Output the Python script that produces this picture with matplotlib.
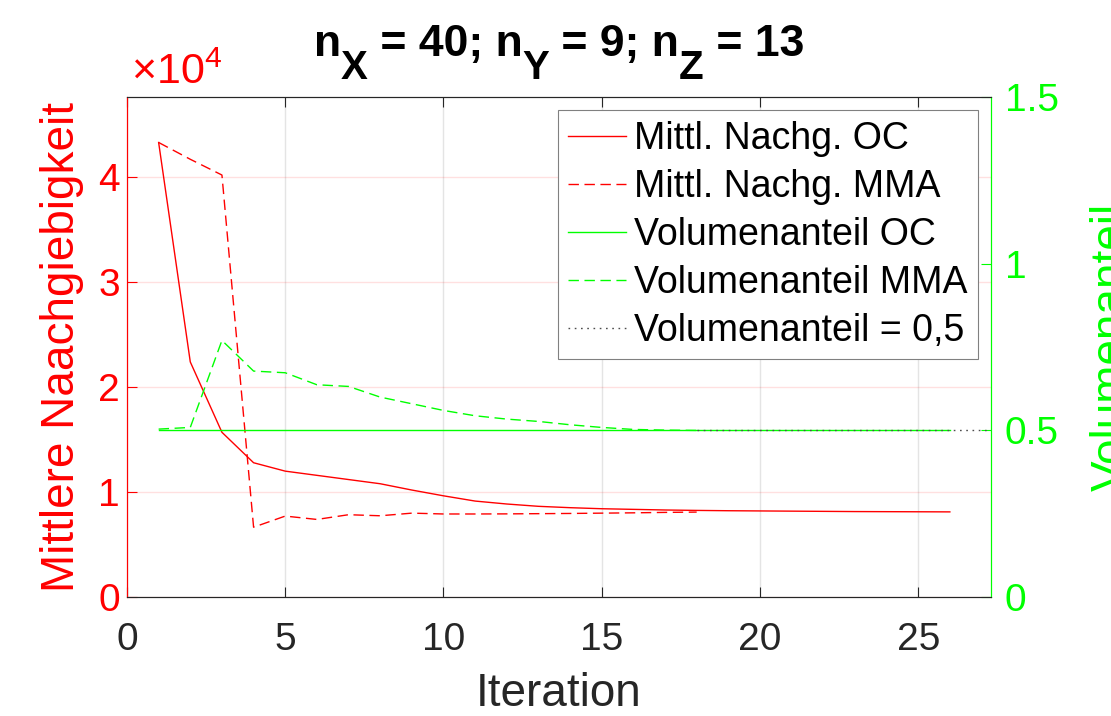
import matplotlib
matplotlib.use("Agg")
import matplotlib.pyplot as plt
from matplotlib.ticker import FuncFormatter

plt.rcParams['font.family'] = ['Liberation Sans', 'DejaVu Sans']
plt.rcParams['mathtext.fontset'] = 'custom'
plt.rcParams['mathtext.rm'] = 'Liberation Sans'
plt.rcParams['mathtext.bf'] = 'Liberation Sans:bold'

# mean compliance (OC / MMA)
it_oc = list(range(1, 27))
comp_oc = [43300, 22400, 15700, 12800, 12000, 11600, 11200, 10800, 10200, 9650,
           9150, 8870, 8650, 8520, 8420, 8360, 8300, 8260, 8230, 8210,
           8190, 8170, 8150, 8140, 8130, 8120]
it_mma = list(range(1, 19))
comp_mma = [43300, 41700, 40200, 6660, 7720, 7400, 7850, 7750, 8000, 7920,
            7920, 7930, 7950, 7970, 8000, 8030, 8070, 8100]

# volume fraction
vol_oc = [0.5, 0.5, 0.5, 0.5, 0.5, 0.5, 0.5, 0.5, 0.5, 0.5, 0.5, 0.5, 0.5,
          0.5, 0.5, 0.5, 0.5, 0.5, 0.5, 0.5, 0.5, 0.5, 0.5, 0.5, 0.5, 0.5]
vol_mma = [0.504, 0.509, 0.77, 0.678, 0.673, 0.637, 0.632, 0.60, 0.58, 0.56,
           0.544, 0.534, 0.527, 0.517, 0.509, 0.503, 0.501, 0.500]
target_x = [18, 27.3]
target_y = [0.5, 0.5]

labels = ['Mittl. Nachg. OC', 'Mittl. Nachg. MMA', 'Volumenanteil OC',
          'Volumenanteil MMA', 'Volumenanteil = 0,5']
# title parts: (text, is_subscript)
title_parts = [('n', False), ('X', True), (' = 40; n', False), ('Y', True),
               (' = 9; n', False), ('Z', True), (' = 13', False)]

RED = (1, 0, 0)
GREEN = (0, 1, 0)
DARK = (0.15, 0.15, 0.15)

fig = plt.figure(figsize=(11.11, 7.16), dpi=100)
ax = fig.add_axes([0.1143, 0.166, 0.7777, 0.6985])
ax2 = ax.twinx()

l1, = ax.plot(it_oc, comp_oc, '-', color=RED, lw=1.0)
l2, = ax.plot(it_mma, comp_mma, '--', color=RED, lw=1.0, dashes=(7.5, 4))
l3, = ax2.plot(it_oc, vol_oc, '-', color=GREEN, lw=1.0)
l4, = ax2.plot(it_mma, vol_mma, '--', color=GREEN, lw=1.0, dashes=(7.5, 4))
l5, = ax2.plot(target_x, target_y, ':', color=(0.3, 0.3, 0.3), lw=1.0, dashes=(1.2, 3.3))

ax.set_xlim(0, 27.3)
ax.set_ylim(0, 1.1 * max(comp_mma))
ax.set_yticks([0, 10000, 20000, 30000, 40000])
ax.set_xticks([0, 5, 10, 15, 20, 25])
ax.yaxis.set_major_formatter(FuncFormatter(lambda v, p: '%g' % (v / 1e4)))
ax.text(0.005, 1.008, r'$\times$10$^{4}$', transform=ax.transAxes, fontsize=31,
        color=RED, ha='left', va='bottom')

ax2.set_ylim(0, 1.5)
ax2.set_yticks([0, 0.5, 1, 1.5])
ax2.set_yticklabels(['0', '0.5', '1', '1.5'])

ax.xaxis.grid(True, color=DARK, alpha=0.12, lw=1.0)
ax.yaxis.grid(True, color=RED, alpha=0.12, lw=1.0)
ax.set_axisbelow(True)

ax.tick_params(axis='x', direction='in', top=True, length=7, width=0.8,
               colors=DARK, labelsize=28, pad=18)
ax.tick_params(axis='y', direction='in', length=7, width=0.8,
               colors=RED, labelsize=28, pad=5)
ax2.tick_params(axis='y', direction='in', length=7, width=0.8,
                colors=GREEN, labelsize=28, pad=10)

for a in (ax, ax2):
    a.spines['top'].set_color(DARK)
    a.spines['bottom'].set_color(DARK)
    a.spines['left'].set_color(RED)
    a.spines['right'].set_color(GREEN)
    for s in a.spines.values():
        s.set_linewidth(0.8)

ax.set_xlabel('Iteration', fontsize=33, color=DARK, labelpad=10)
ax.set_ylabel('Mittlere Naachgiebigkeit', fontsize=33, color=RED, labelpad=10)
ax2.set_ylabel('Volumenanteil', fontsize=33, color=GREEN, labelpad=22)

# title with large, dropped subscripts (MATLAB tex style)
renderer = fig.canvas.get_renderer()
W, H = fig.bbox.width, fig.bbox.height
texts, widths = [], []
for s, sub in title_parts:
    t = fig.text(0, 0, s, fontsize=29 if sub else 32, fontweight='bold',
                 ha='left', va='baseline')
    texts.append(t)
    widths.append(t.get_window_extent(renderer).width)
x0 = (ax.bbox.x0 + ax.bbox.x1) / 2 - sum(widths) / 2
base = H - 56
for (s, sub), t, w in zip(title_parts, texts, widths):
    t.set_position((x0 / W, (base - (23 if sub else 0)) / H))
    x0 += w

leg = ax2.legend([l1, l2, l3, l4, l5], labels, loc='upper right', fontsize=27,
                 fancybox=False, framealpha=1, edgecolor=(0.5, 0.5, 0.5),
                 borderaxespad=0.35, handlelength=1.55, handletextpad=0.2,
                 labelspacing=0.32, borderpad=0.28)
leg.get_frame().set_linewidth(0.8)

fig.savefig('out.png', dpi=100)
